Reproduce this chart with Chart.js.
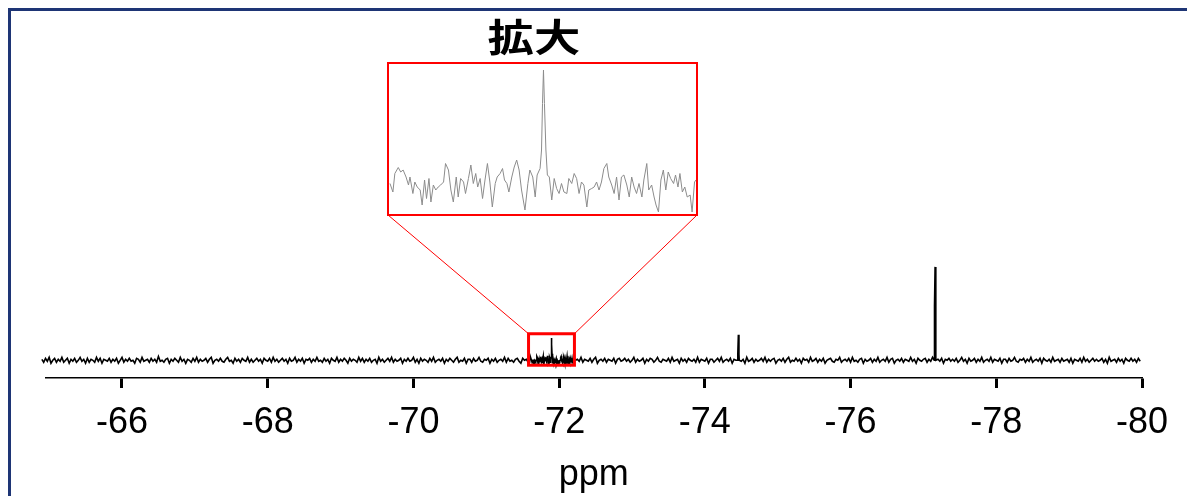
<!DOCTYPE html>
<html>
<head>
<meta charset="utf-8">
<script src="https://cdn.jsdelivr.net/npm/chart.js@4.4.0/dist/chart.umd.min.js"></script>
<style>
  html, body { margin: 0; padding: 0; background: #fff; }
  body { width: 1187px; height: 496px; position: relative; overflow: hidden; }
  #frame { position: absolute; left: 8px; top: 8px; width: 1300px; height: 600px;
           border-top: 3px solid #1e3575; border-left: 3px solid #1e3575; }
  #main { position: absolute; left: 0; top: 0; }
  #title { position: absolute; left: 434px; top: 16px; width: 200px; text-align: center;
           font-family: "Noto Sans CJK JP", sans-serif; font-weight: bold; font-size: 38px; line-height: 38px; color: #000;
           transform: scaleX(1.22); }
  #insetBox { position: absolute; box-sizing: border-box; border: 2px solid #ff0000; background: #fff; }
  #inset { display: block; }
</style>
</head>
<body>
<div id="frame"></div>
<canvas id="main" width="1187" height="496"></canvas>
<div id="title">拡大</div>
<div id="insetBox"><canvas id="inset"></canvas></div>
<script>
// x axis (ppm, reversed)
const axisMin = -80;
const axisMax = -64.95;
const tickValues = [-80, -78, -76, -74, -72, -70, -68, -66];

// baseline noise of the full spectrum, one value every noiseStep ppm from noiseStart
const noiseStart = -64.9;
const noiseStep = 0.025;
const noiseValues = [
  1,-2,2,-1,3,-3,0,2,-2,1,-1,3,-2,0,2,-3,1,-1,2,-2,
  0,3,-1,1,-3,2,-2,1,0,-2,3,-1,2,-3,1,0,-1,2,-2,1,
  -1,2,-3,0,3,-2,1,-1,2,-1,0,-3,2,1,-2,3,-1,0,1,-2,
  2,-1,1,-2,4,-1,0,-2,1,2,-3,1,-1,2,0,-2,3,-1,1,-3,
  1,0,-2,2,-1,3,-2,1,-1,0,2,-2,1,3,-3,0,1,-1,2,-1,
  -2,1,3,-1,0,-3,2,-1,1,-2,2,0,-1,3,-2,1,-2,0,2,-1,
  1,-3,2,0,-1,2,-2,3,-1,1,-2,0,2,-1,1,-3,2,-1,0,3,
  -2,1,-1,2,-3,1,0,2,-2,1,-1,3,-1,0,-2,2,-1,1,-3,2,
  0,-1,3,-2,1,-1,2,0,-3,2,-1,1,0,-2,3,-1,2,-2,1,-1,
  2,-2,0,1,-3,3,-1,1,-2,0,2,-1,3,-2,1,-1,0,2,-3,1,
  -1,2,-1,0,3,-2,1,-3,2,-1,1,0,-2,2,-1,3,-2,0,1,-1,
  2,-3,1,-1,2,0,-2,1,3,-2,0,-1,2,-3,1,1,-2,2,-1,0,
  3,-1,-2,1,0,2,-3,1,-1,2,-2,0,1,-1,3,-2,2,-1,0,-2,
  1,2,-1,-3,2,0,1,-2,3,-1,0,-2,1,2,-3,1,-1,0,2,-1,
  -2,3,-1,1,-2,0,2,-1,1,-3,2,1,-2,0,1,-1,3,-2,1,0,
  -1,2,-2,1,3,-3,0,1,-1,2,-2,1,0,-1,2,-3,1,2,-1,0,
  2,-1,1,-2,0,3,-2,1,-1,0,2,-3,1,-1,2,1,-2,0,3,-1,
  -2,1,0,-1,2,-2,3,-1,0,1,-3,2,-1,1,-2,2,0,-1,1,-2,
  3,-2,1,0,-1,2,-3,1,1,-2,0,2,-1,3,-2,0,1,-1,2,-3,
  1,0,-2,2,-1,1,-3,3,-1,0,2,-2,1,-1,0,2,-1,3,-2,1,
  -1,1,2,-3,0,1,-1,2,-2,1,3,-2,0,-1,2,-1,1,-3,2,0,
  1,-2,3,-1,0,2,-2,1,-1,2,-3,0,1,2,-1,-2,1,0,3,-2,
  0,1,-1,2,-2,3,-1,0,-2,1,2,-3,1,-1,0,2,-2,1,-1,3,
  -2,0,1,-1,3,-2,1,2,-3,0,1,-1,2,-2,1,0,-1,3,-1,1,
  -3,2,0,-1,1,2,-2,1,-1,3,-2,0,1,-1,2,-3,1,0,2,-1,
  1,-1,2,-2,0,3,-1,1,-3,2,-1,0,2,-2,1,-1,3,-2,0,1,
  -1,3,-2,1,0,-1,2,-3,1,1,-2,2,-1,0,3,-1,-2,1,0,2,
  -2,1,-1,3,-2,0,1,-1,2,-3,2,0,-1,1,-2,3,-1,0,1,-2,
  2,-1,0,1,-2,2,-3,1,0,-1,2,-2,3,-1,1,-2,0,2,-1,1,
  -1,0,2,-2,1,-3,3,-1,0,1,-2,2,-1,1,-3,2,0,-1,2,-1,
  1,-2,2,-1
];

// sharp signals
const peakPpm = [-74.46, -77.16];
const peakHeight = [26, 95];
const peakShoulder = [6, 55];

// magnified region
const zoomFrom = -71.58;
const zoomTo = -72.21;
const zoomLow = -5;
const zoomHigh = 27;
const insetPpm = [
  -71.582,-71.588,-71.592,-71.599,-71.604,-71.609,-71.615,-71.620,-71.623,-71.629,
  -71.633,-71.638,-71.644,-71.648,-71.653,-71.657,-71.662,-71.666,-71.671,-71.676,
  -71.681,-71.686,-71.692,-71.696,-71.702,-71.707,-71.712,-71.718,-71.722,-71.727,
  -71.733,-71.737,-71.743,-71.748,-71.753,-71.758,-71.762,-71.767,-71.772,-71.777,
  -71.782,-71.787,-71.792,-71.798,-71.802,-71.808,-71.813,-71.817,-71.822,-71.826,
  -71.832,-71.837,-71.842,-71.847,-71.852,-71.859,-71.865,-71.869,-71.875,-71.880,
  -71.884,-71.890,-71.893,-71.895,-71.897,-71.899,-71.902,-71.905,-71.909,-71.914,
  -71.919,-71.924,-71.929,-71.934,-71.939,-71.945,-71.949,-71.955,-71.960,-71.965,
  -71.970,-71.975,-71.980,-71.986,-71.990,-71.996,-72.001,-72.006,-72.011,-72.016,
  -72.021,-72.027,-72.031,-72.037,-72.042,-72.047,-72.052,-72.057,-72.062,-72.068,
  -72.073,-72.078,-72.083,-72.088,-72.093,-72.099,-72.103,-72.109,-72.113,-72.119,
  -72.124,-72.128,-72.133,-72.138,-72.143,-72.148,-72.153,-72.158,-72.164,-72.168,
  -72.173,-72.177,-72.182,-72.187,-72.192,-72.198,-72.202,-72.207,-72.210
];
const insetValues = [
  0,-1.7,2,3.2,2.3,2.7,1.3,-0.3,1.3,-2,
  0.3,-0.7,-1.3,-4.3,0.7,-3,1,-3.7,-0.3,-1.3,
  -0.7,-0.3,0.3,4,2.7,-1.3,-3.7,1.3,-2.7,1,
  0.3,-2,1,3.7,0,2,-0.7,1,-3,0.7,
  4,0.3,-4.7,0,1.3,2,3,0.7,0,-1.7,
  1.3,3.3,4.7,2.7,-1.3,-5.3,0,2.7,1.3,-2.7,
  1.7,3,6.7,16,22.7,16,6.7,1.7,1.3,-3.3,
  1,-1,-2,0,-1.7,-2,1,0,2,1,
  -2,0.3,-0.3,-4.7,-1.3,-1,-0.7,0.3,-1.3,0.3,
  3,4,1.3,-0.3,-2,1.3,-3.3,1.3,1.7,-0.3,
  -2.7,1.3,-0.7,-2,0,-2.7,0.7,4,-1.3,-0.3,
  -2.7,-4.3,-5.7,0.7,2.7,-1.3,2.3,1,0,1.7,
  -0.7,2,-1.7,-0.7,-2.7,-2.3,-5.7,0.3,0.7
];
const insetMin = -6.1;
const insetMax = 23.9;

// inset frame on the page
const insetBox = { left: 387, top: 62, width: 311, height: 154, border: 2 };

const boxEl = document.getElementById('insetBox');
boxEl.style.left = insetBox.left + 'px';
boxEl.style.top = insetBox.top + 'px';
boxEl.style.width = insetBox.width + 'px';
boxEl.style.height = insetBox.height + 'px';
const insetCanvas = document.getElementById('inset');
insetCanvas.width = insetBox.width - 2 * insetBox.border;
insetCanvas.height = insetBox.height - 2 * insetBox.border;

// full spectrum: coarse noise + fine trace in the zoomed part + the two signals
const mainPoints = [];
noiseValues.forEach((v, i) => {
  const ppm = noiseStart - i * noiseStep;
  if (ppm <= zoomFrom && ppm >= zoomTo) return;
  if (peakPpm.some(p => Math.abs(ppm - p) < 0.02)) return;
  mainPoints.push({ x: ppm, y: v });
});
insetPpm.forEach((p, i) => mainPoints.push({ x: p, y: insetValues[i] }));
peakPpm.forEach((p, k) => {
  mainPoints.push(
    { x: p + 0.012, y: 0 },
    { x: p + 0.008, y: peakShoulder[k] },
    { x: p, y: peakHeight[k] },
    { x: p - 0.008, y: peakShoulder[k] },
    { x: p - 0.012, y: 0 }
  );
});
mainPoints.sort((a, b) => b.x - a.x);

const tickFont = { family: '"Liberation Sans", Arial, sans-serif', size: 36 };
const titleFont = { family: '"Liberation Sans", Arial, sans-serif', size: 36, lineHeight: 1 };

const zoomMarker = {
  id: 'zoomMarker',
  afterDatasetsDraw(chart) {
    const { ctx, scales: { x, y } } = chart;
    const l = x.getPixelForValue(zoomFrom);
    const r = x.getPixelForValue(zoomTo);
    const t = y.getPixelForValue(zoomHigh);
    const b = y.getPixelForValue(zoomLow);
    const bottom = insetBox.top + insetBox.height - 1;
    ctx.save();
    ctx.strokeStyle = '#ff0000';
    ctx.lineWidth = 1;
    ctx.beginPath();
    ctx.moveTo(l, t);
    ctx.lineTo(insetBox.left + 1, bottom);
    ctx.moveTo(r, t);
    ctx.lineTo(insetBox.left + insetBox.width - 1, bottom);
    ctx.stroke();
    ctx.lineWidth = 3;
    ctx.strokeRect(l, t, r - l, b - t);
    ctx.restore();
  }
};

new Chart(document.getElementById('main'), {
  type: 'line',
  data: {
    datasets: [{
      data: mainPoints,
      borderColor: '#000',
      borderWidth: 1.6,
      pointRadius: 0,
      tension: 0,
      clip: false
    }]
  },
  options: {
    responsive: false,
    animation: false,
    layout: { padding: { left: 45.5, right: 45, top: 260, bottom: 0 } },
    plugins: { legend: { display: false }, tooltip: { enabled: false } },
    scales: {
      x: {
        type: 'linear',
        reverse: true,
        min: axisMin,
        max: axisMax,
        afterBuildTicks: s => { s.ticks = tickValues.map(v => ({ value: v })); },
        ticks: { font: tickFont, color: '#000', padding: 13, maxRotation: 0, autoSkip: false,
                 callback: v => String(v) },
        grid: { drawOnChartArea: false, drawTicks: true, tickLength: 10, tickWidth: 3, tickColor: '#000' },
        border: { display: true, color: '#000', width: 1.5 },
        title: { display: true, text: 'ppm', font: titleFont, color: '#000', padding: { top: 0, bottom: 3.2 } }
      },
      y: { display: false, min: -18, max: 102 }
    }
  },
  plugins: [zoomMarker]
});

new Chart(insetCanvas, {
  type: 'line',
  data: {
    datasets: [{
      data: insetPpm.map((p, i) => ({ x: p, y: insetValues[i] })),
      borderColor: '#8c8c8c',
      borderWidth: 1,
      pointRadius: 0,
      tension: 0
    }]
  },
  options: {
    responsive: false,
    animation: false,
    layout: { padding: 0 },
    plugins: { legend: { display: false }, tooltip: { enabled: false } },
    scales: {
      x: { type: 'linear', reverse: true, min: zoomTo, max: zoomFrom, display: false },
      y: { display: false, min: insetMin, max: insetMax }
    }
  }
});
</script>
</body>
</html>
